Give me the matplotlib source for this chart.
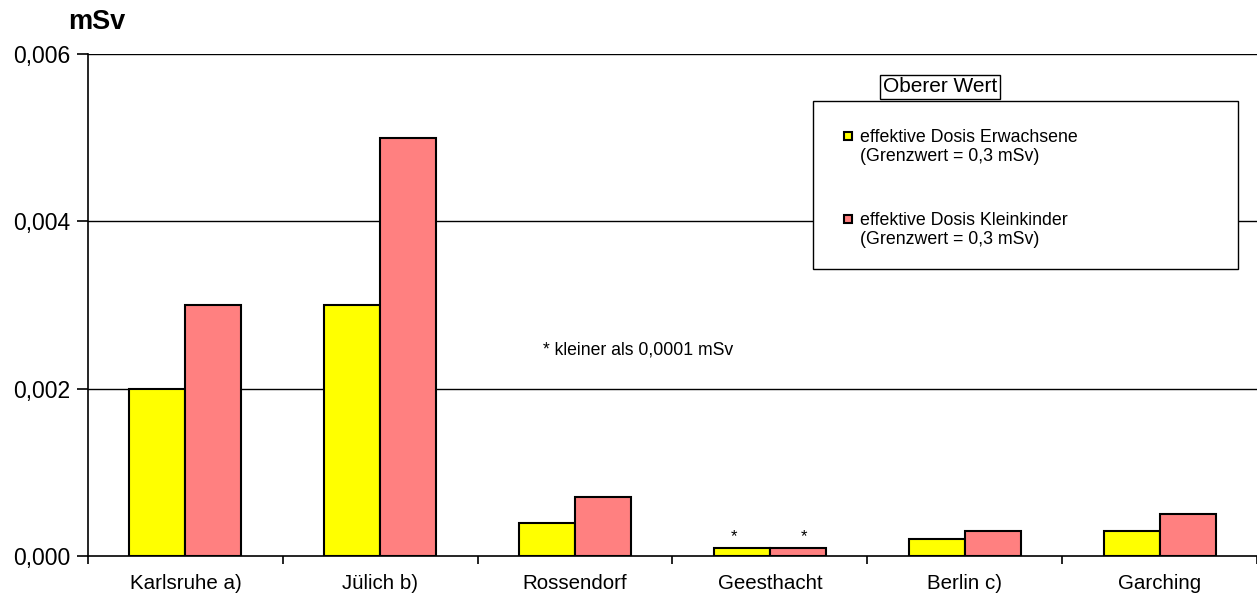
import matplotlib
matplotlib.use("Agg")
import matplotlib.pyplot as plt
from matplotlib.patches import Rectangle
import numpy as np

plt.rcParams['font.family'] = ['Liberation Sans', 'DejaVu Sans']

standorte = ["Karlsruhe a)", "Jülich b)", "Rossendorf", "Geesthacht", "Berlin c)", "Garching"]
dosis_erwachsene = [0.002, 0.003, 0.0004, 0.0001, 0.0002, 0.0003]
dosis_kleinkinder = [0.003, 0.005, 0.0007, 0.0001, 0.0003, 0.0005]
y_ticks = [0.0, 0.002, 0.004, 0.006]
y_tick_labels = ["0,000", "0,002", "0,004", "0,006"]
label_erwachsene = "effektive Dosis Erwachsene\n(Grenzwert = 0,3 mSv)"
label_kleinkinder = "effektive Dosis Kleinkinder\n(Grenzwert = 0,3 mSv)"

farbe_gelb = "#FFFF00"
farbe_rot = "#FF8080"

fig = plt.figure(figsize=(12.57, 5.94), dpi=100)
ax = fig.add_axes([88/1257, 1 - 556/594, 1 - 88/1257, (556 - 54)/594])

x = np.arange(len(standorte))
w = 0.287
ax.bar(x - w/2, dosis_erwachsene, width=w, color=farbe_gelb, edgecolor="black", linewidth=1.5, zorder=3)
ax.bar(x + w/2, dosis_kleinkinder, width=w, color=farbe_rot, edgecolor="black", linewidth=1.5, zorder=3)

ax.set_xlim(-0.5, len(standorte) - 0.5)
ax.set_ylim(0, 0.006)
ax.set_yticks(y_ticks)
ax.set_yticklabels(y_tick_labels, fontsize=16.5)
for y in y_ticks[1:]:
    ax.axhline(y, color="black", linewidth=1.0, zorder=1)

ax.set_xticks(x)
ax.set_xticklabels(standorte, fontsize=14.8)
ax.tick_params(axis="x", which="major", length=0, pad=13)
ax.set_xticks(np.arange(-0.5, len(standorte), 1.0), minor=True)
ax.tick_params(axis="x", which="minor", length=6, width=1.2, direction="out")
ax.tick_params(axis="y", length=8, width=1.2, direction="out", pad=5)

for s in ["top", "right"]:
    ax.spines[s].set_visible(False)
ax.spines["left"].set_linewidth(1.2)
ax.spines["bottom"].set_linewidth(1.2)

fig.text(68/1257, 1 - 22/594, "mSv", fontsize=19.5, fontweight="bold", ha="left", va="center")

# marks for values below the detection limit
gi = standorte.index("Geesthacht")
ax.text(gi - w/2 - 0.04, dosis_erwachsene[gi] + 0.00004, "*", ha="center", va="bottom", fontsize=12)
ax.text(gi + w/2 + 0.03, dosis_kleinkinder[gi] + 0.00004, "*", ha="center", va="bottom", fontsize=12)
fig.text(543/1257, 1 - 350/594, "* kleiner als 0,0001 mSv", fontsize=12.7, ha="left", va="center")

# legend box
lx0, lx1, ly0, ly1 = 813, 1238, 101, 269
fig.patches.append(Rectangle((lx0/1257, 1 - ly1/594), (lx1 - lx0)/1257, (ly1 - ly0)/594,
                             transform=fig.transFigure, facecolor="white", edgecolor="black",
                             linewidth=1.0, zorder=5))
fig.text(940/1257, 1 - 87/594, "Oberer Wert", fontsize=15, ha="center", va="center",
         bbox=dict(boxstyle="square,pad=0.12", facecolor="white", edgecolor="black", linewidth=1.0),
         zorder=6)
for (yc, farbe, txt) in [(136, farbe_gelb, label_erwachsene), (219, farbe_rot, label_kleinkinder)]:
    s = 8
    fig.patches.append(Rectangle(((848 - s/2)/1257, 1 - (yc + s/2)/594), s/1257, s/594,
                                 transform=fig.transFigure, facecolor=farbe, edgecolor="black",
                                 linewidth=1.5, zorder=6))
    fig.text(860/1257, 1 - (yc - 7)/594, txt, fontsize=12.8, ha="left", va="top",
             linespacing=1.15, zorder=7)

fig.savefig("out.png", dpi=100)
